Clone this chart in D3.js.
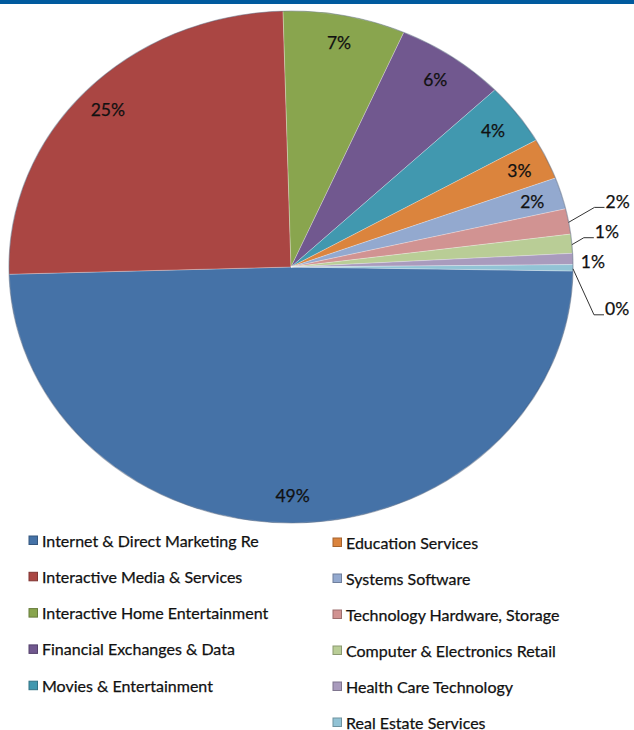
<!DOCTYPE html>
<html>
<head>
<meta charset="utf-8">
<script src="https://d3js.org/d3.v7.min.js"></script>
<style>
    body { margin: 0; background: #fff; }
    text { font-family: Lato, "Open Sans", sans-serif; fill: #111; stroke: #111; stroke-width: 0.25px; }
</style>
</head>
<body>
<svg id="chart" width="634" height="730"></svg>
<script>
// industries, in the order Excel draws them (clockwise)
const categories = [
    "Internet & Direct Marketing Re",
    "Interactive Media & Services",
    "Interactive Home Entertainment",
    "Financial Exchanges & Data",
    "Movies & Entertainment",
    "Education Services",
    "Systems Software",
    "Technology Hardware, Storage",
    "Computer & Electronics Retail",
    "Health Care Technology",
    "Real Estate Services"
];
// share of total, percent
const shares = [49.3, 25.0, 7.0, 6.3, 3.9, 2.6, 2.0, 1.6, 1.2, 0.7, 0.4];

const colors = ["#4572a7", "#aa4643", "#89a54e", "#71588f", "#4198af", "#db843d",
                "#93a9cf", "#d19392", "#b9cd96", "#a99bbd", "#92c3d5"];

const svg = d3.select("#chart");
const width = +svg.attr("width");

// blue bar across the top
svg.append("rect")
   .attr("x", 0).attr("y", 0)
   .attr("width", width).attr("height", 4)
   .attr("fill", "#005a9e");

const cx = 291, cy = 267;
const R = 282;          // horizontal radius
const ky = 256 / 282;   // the picture is squashed vertically
const deg = Math.PI / 180;

const pie = d3.pie()
              .sort(null)
              .value(d => d)
              .startAngle(90.9 * deg)
              .endAngle(90.9 * deg + 2 * Math.PI);
const arcs = pie(shares);

const arc = d3.arc().innerRadius(0).outerRadius(R);

const pieG = svg.append("g")
                .attr("transform", `translate(${cx}, ${cy}) scale(1, ${ky})`);

pieG.selectAll("path.slice")
    .data(arcs)
    .enter()
    .append("path")
    .attr("class", "slice")
    .attr("d", arc)
    .attr("fill", (d, i) => colors[i])
    .attr("stroke", "rgba(255,255,255,0.35)")
    .attr("stroke-width", 0.8);

// soft dark rim
pieG.append("circle")
    .attr("r", R)
    .attr("fill", "none")
    .attr("stroke", "rgba(30,50,80,0.35)")
    .attr("stroke-width", 1.2);

// point on the (squashed) circle at angle a, radius r
function pt(a, r) {
    return [cx + r * Math.sin(a), cy - r * Math.cos(a) * ky];
}

const fmt = v => Math.round(v) + "%";

// slices too thin for an inside label get a callout to the right
const outsideFrom = 7;
const calloutShift = [[37, -20], [23, -12], [8, 3], [32, 41]];

arcs.forEach((d, i) => {
    const mid = (d.startAngle + d.endAngle) / 2;
    if (i < outsideFrom) {
        const p = pt(mid, 252);
        svg.append("text")
           .attr("x", p[0]).attr("y", p[1])
           .attr("text-anchor", "middle")
           .attr("dominant-baseline", "central")
           .style("font-size", "17.5px")
           .text(fmt(d.data));
    } else {
        const rim = pt(mid, R);
        const s = calloutShift[i - outsideFrom];
        const tx = rim[0] + s[0], ty = rim[1] + s[1];
        if (Math.hypot(s[0], s[1]) > 15) {
            svg.append("polyline")
               .attr("points", [[rim[0], rim[1] + 1], [tx - 11, ty + 6], [tx - 1, ty + 6]].join(" "))
               .attr("fill", "none")
               .attr("stroke", "#333")
               .attr("stroke-width", 1);
        }
        svg.append("text")
           .attr("x", tx).attr("y", ty)
           .attr("text-anchor", "start")
           .attr("dominant-baseline", "central")
           .style("font-size", "17.5px")
           .text(fmt(d.data));
    }
});

// legend: two columns
const leftCount = 5;
categories.forEach((name, i) => {
    const col = i < leftCount ? 0 : 1;
    const row = col === 0 ? i : i - leftCount;
    const x = col === 0 ? 29 : 333;
    const y = col === 0 ? 540 + row * 36.3 : 542 + row * 36;
    svg.append("rect")
       .attr("x", x).attr("y", y - 4)
       .attr("width", 8.5).attr("height", 8.5)
       .attr("fill", colors[i])
       .attr("stroke", d3.color(colors[i]).darker(0.8))
       .attr("stroke-width", 1);
    svg.append("text")
       .attr("x", x + 13).attr("y", y)
       .attr("dominant-baseline", "central")
       .style("font-size", "16px")
       .text(name);
});
</script>
</body>
</html>
